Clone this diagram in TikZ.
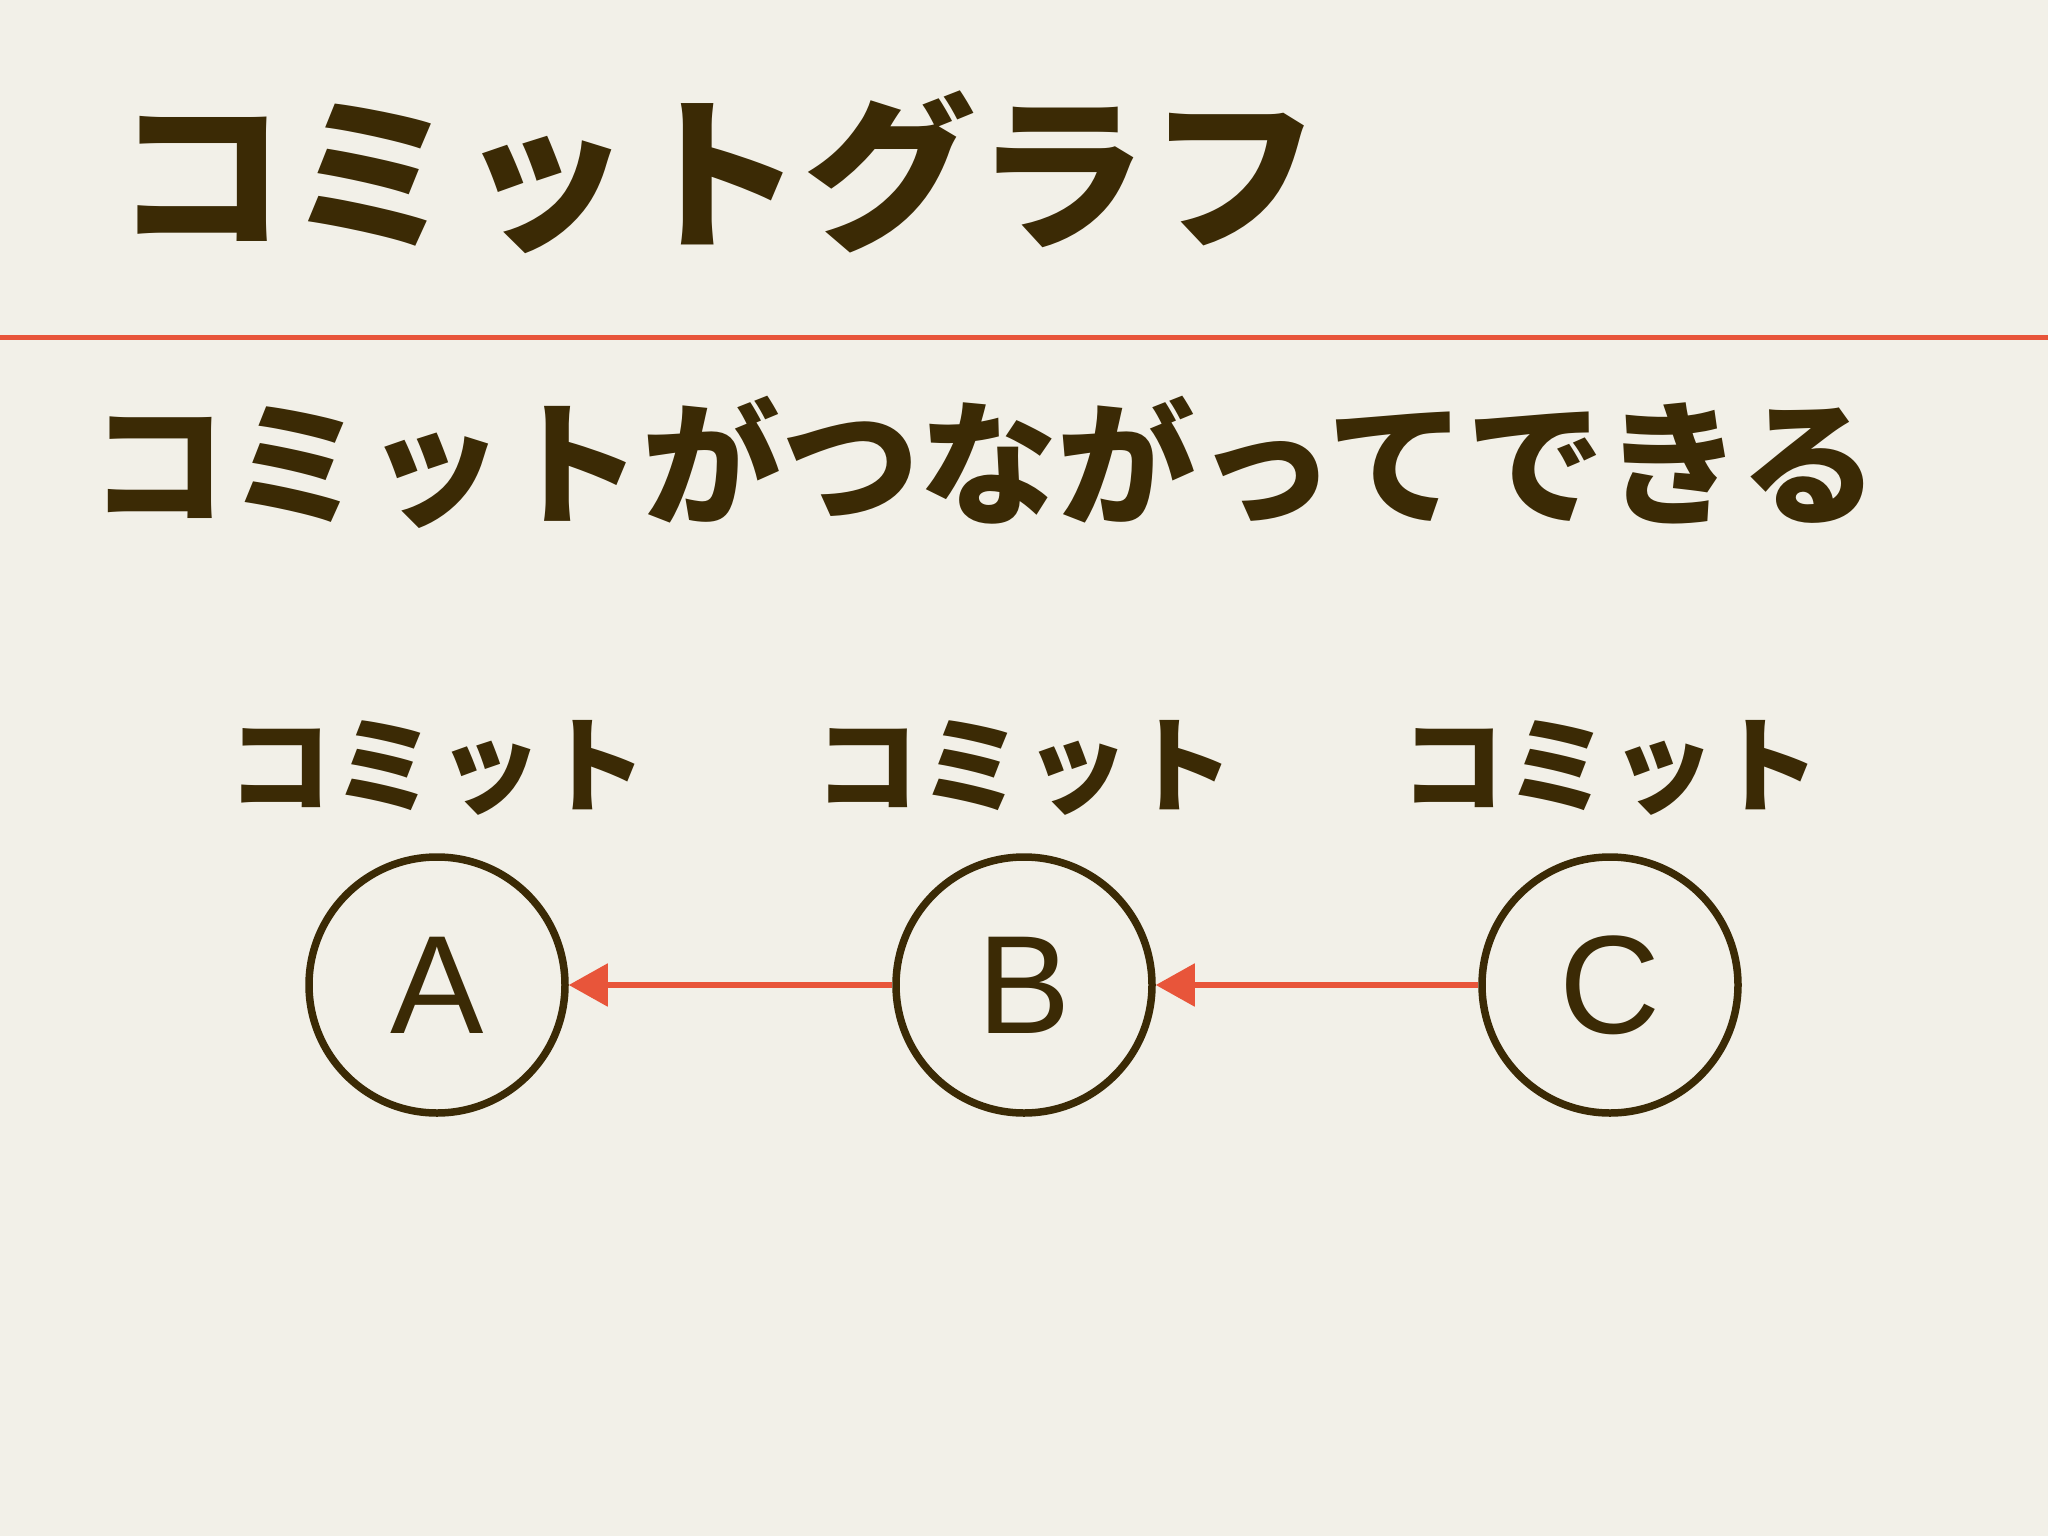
\documentclass[tikz,border=0pt]{standalone}
\usepackage{fontspec}
\setmainfont{Liberation Sans}
\newfontfamily\cjk{Noto Sans CJK JP}
\usetikzlibrary{arrows.meta}
\definecolor{bg}{HTML}{F2F0E8}
\definecolor{ink}{HTML}{3B2A05}
\definecolor{accent}{HTML}{E8553A}
\tikzset{
  commit/.style={circle, draw=ink, line width=7.5pt, minimum size=256pt, inner sep=0pt, text=ink, font=\fontsize{140}{140}\selectfont},
  clabel/.style={text=ink, inner sep=0pt, font=\cjk\bfseries\fontsize{105}{105}\selectfont},
  link/.style={draw=accent, line width=5.5pt, -{Triangle[length=39pt,width=42pt]}}
}
\begin{document}
\begin{tikzpicture}[x=1pt,y=-1pt]
\useasboundingbox[fill=bg] (0,0) rectangle (2048,1536);
\node[anchor=west, inner sep=0pt, text=ink, xscale=1.038, transform shape, font=\cjk\bfseries\fontsize{166}{166}\selectfont] (title) at (114,172) {コミットグラフ};
\coordinate (ruleL) at (0,337);
\coordinate (ruleR) at (2048,337);
\draw[accent, line width=5pt] (ruleL) -- (ruleR);
\node[anchor=west, inner sep=0pt, text=ink, xscale=1.025, transform shape, font=\cjk\bfseries\fontsize{135}{135}\selectfont] (sub) at (89,462) {コミットがつながってできる};
\node[commit] (A) at (437,985) {A};
\node[commit] (B) at (1024,985) {B};
\node[commit] (C) at (1610,985) {C};
\node[clabel] (la) at (437,768) {コミット};
\node[clabel] (lb) at (1024,768) {コミット};
\node[clabel] (lc) at (1610,768) {コミット};
\draw[link] (B) -- (A);
\draw[link] (C) -- (B);
\end{tikzpicture}
\end{document}
